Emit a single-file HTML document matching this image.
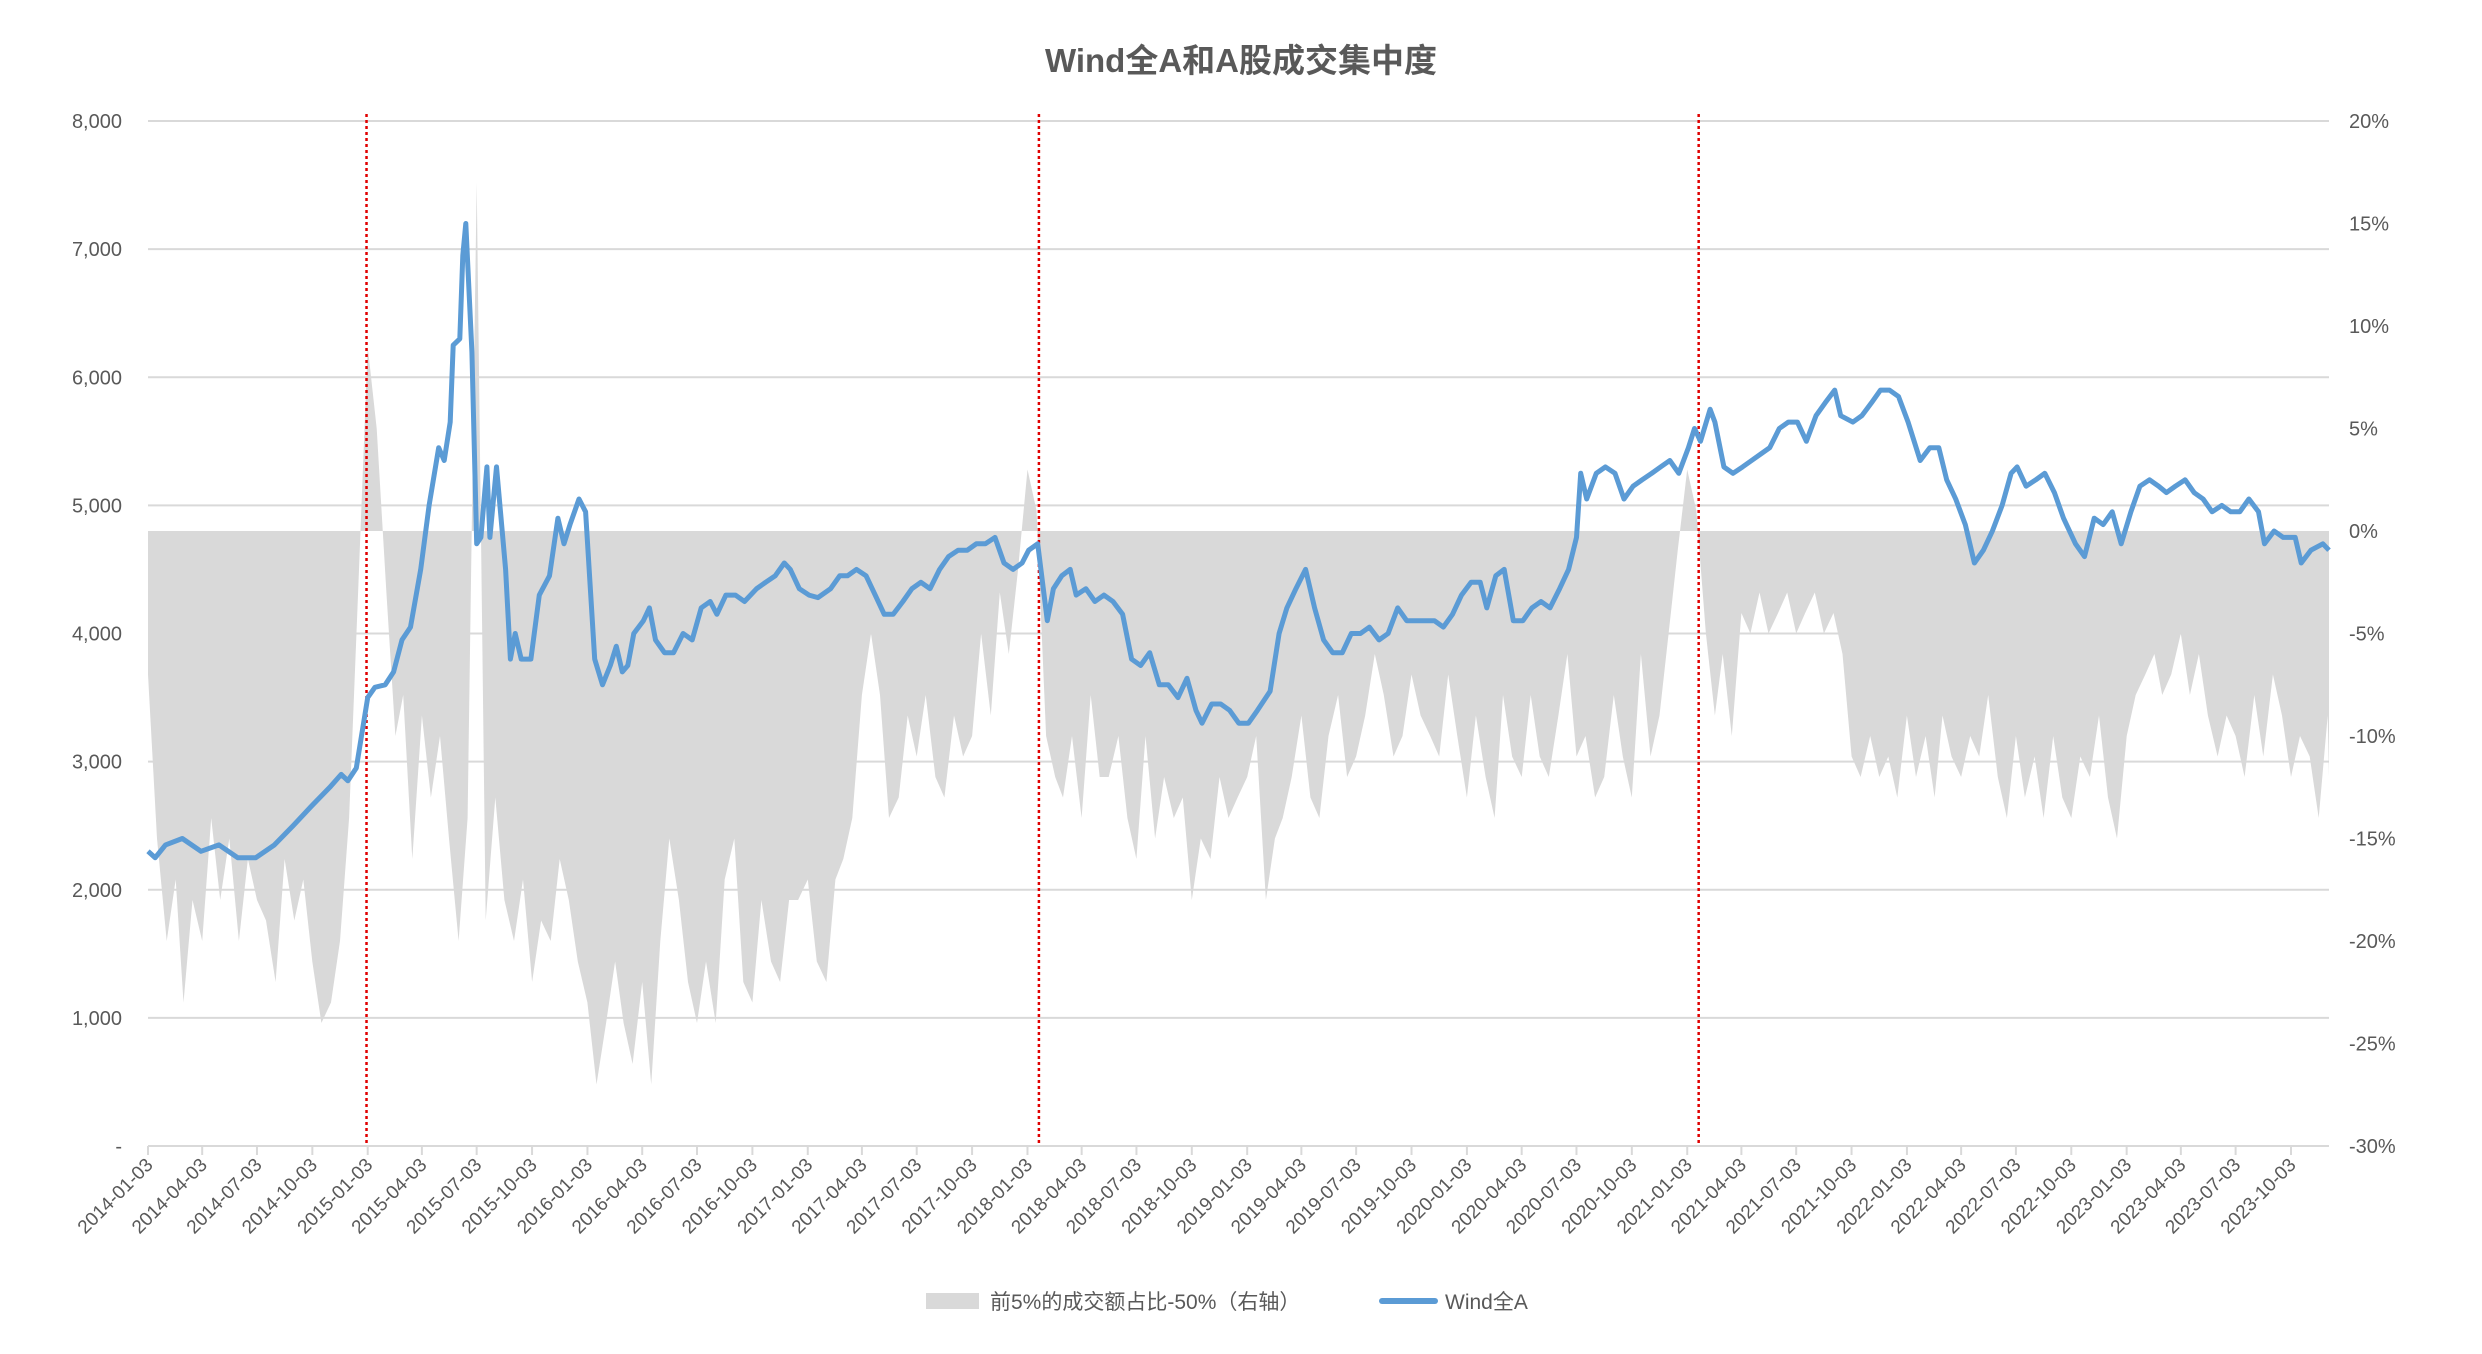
<!DOCTYPE html>
<html><head><meta charset="utf-8"><style>
html,body{margin:0;padding:0;background:#fff;}
svg{display:block;font-family:"Liberation Sans","Noto Sans CJK SC",sans-serif;}
</style></head><body>
<svg id="chart" width="2482" height="1354" viewBox="0 0 2482 1354" xmlns="http://www.w3.org/2000/svg">
<text x="1241" y="72" text-anchor="middle" font-size="33" font-weight="bold" fill="#595959">Wind全A和A股成交集中度</text>
<g id="grid"></g><g id="area"></g><g id="redlines"></g><g id="line"></g><g id="axes"></g>
<g>
<rect x="926" y="1293" width="53" height="16" fill="#d9d9d9"/>
<text x="990" y="1309" font-size="21" fill="#595959">前5%的成交额占比-50%（右轴）</text>
<line x1="1382" y1="1301" x2="1435" y2="1301" stroke="#5b9bd5" stroke-width="6" stroke-linecap="round"/>
<text x="1445" y="1309" font-size="21" fill="#595959">Wind全A</text>
</g>
</svg>
<script>
const leftTicks=[0,1000,2000,3000,4000,5000,6000,7000,8000];
const leftTickLabels=['-','1,000','2,000','3,000','4,000','5,000','6,000','7,000','8,000'];
const rightTicks=[-30,-25,-20,-15,-10,-5,0,5,10,15,20];
const rightTickLabels=['-30%','-25%','-20%','-15%','-10%','-5%','0%','5%','10%','15%','20%'];
const xTickLabels=[];
for(let y=2014;y<=2023;y++)for(const m of ['01','04','07','10'])xTickLabels.push(y+'-'+m+'-03');
const redLineDates=['2015-01-01','2018-01-22','2021-01-22'];
const grayStartMonth='2014-01';
const grayValues=[-7,-15,-20,-17,-23,-18,-20,-14,-18,-15,-20,-16,-18,-19,-22,-16,-19,-17,-21,-24,-23,-20,-14,-3,
9,5,-3,-10,-8,-16,-9,-13,-10,-15,-20,-14,17,-19,-13,-18,-20,-17,-22,-19,-20,-16,-18,-21,
-23,-27,-24,-21,-24,-26,-22,-27,-20,-15,-18,-22,-24,-21,-24,-17,-15,-22,-23,-18,-21,-22,-18,-18,
-17,-21,-22,-17,-16,-14,-8,-5,-8,-14,-13,-9,-11,-8,-12,-13,-9,-11,-10,-5,-9,-3,-6,-2,
3,1,-10,-12,-13,-10,-14,-8,-12,-12,-10,-14,-16,-10,-15,-12,-14,-13,-18,-15,-16,-12,-14,-13,
-12,-10,-18,-15,-14,-12,-9,-13,-14,-10,-8,-12,-11,-9,-6,-8,-11,-10,-7,-9,-10,-11,-7,-10,
-13,-9,-12,-14,-8,-11,-12,-8,-11,-12,-9,-6,-11,-10,-13,-12,-8,-11,-13,-6,-11,-9,-5,-1,
3,1,-5,-9,-6,-10,-4,-5,-3,-5,-4,-3,-5,-4,-3,-5,-4,-6,-11,-12,-10,-12,-11,-13,
-9,-12,-10,-13,-9,-11,-12,-10,-11,-8,-12,-14,-10,-13,-11,-14,-10,-13,-14,-11,-12,-9,-13,-15,
-10,-8,-7,-6,-8,-7,-5,-8,-6,-9,-11,-9,-10,-12,-8,-11,-7,-9,-12,-10,-11,-14,-9,-12];
const windDates=['2014-01-03','2014-01-15','2014-02-01','2014-03-01','2014-04-01','2014-05-01','2014-06-01','2014-07-01','2014-08-01','2014-09-01','2014-10-01','2014-11-01','2014-11-20','2014-12-01','2014-12-15','2015-01-03','2015-01-15','2015-02-01','2015-02-15','2015-03-01','2015-03-15','2015-04-01','2015-04-15','2015-05-01','2015-05-10','2015-05-20','2015-05-25','2015-06-05','2015-06-10','2015-06-15','2015-06-25','2015-07-03','2015-07-10','2015-07-20','2015-07-25','2015-08-05','2015-08-20','2015-08-28','2015-09-05','2015-09-15','2015-10-01','2015-10-15','2015-11-01','2015-11-15','2015-11-25','2015-12-05','2015-12-20','2015-12-31','2016-01-15','2016-01-28','2016-02-10','2016-02-20','2016-03-01','2016-03-10','2016-03-20','2016-04-05','2016-04-15','2016-04-25','2016-05-10','2016-05-25','2016-06-10','2016-06-25','2016-07-10','2016-07-25','2016-08-05','2016-08-20','2016-09-05','2016-09-20','2016-10-10','2016-10-25','2016-11-10','2016-11-25','2016-12-05','2016-12-20','2017-01-05','2017-01-20','2017-02-10','2017-02-25','2017-03-10','2017-03-25','2017-04-10','2017-04-25','2017-05-10','2017-05-25','2017-06-10','2017-06-25','2017-07-10','2017-07-25','2017-08-10','2017-08-25','2017-09-10','2017-09-25','2017-10-10','2017-10-25','2017-11-10','2017-11-25','2017-12-10','2017-12-25','2018-01-05','2018-01-20','2018-02-05','2018-02-15','2018-03-01','2018-03-15','2018-03-25','2018-04-10','2018-04-25','2018-05-10','2018-05-25','2018-06-10','2018-06-25','2018-07-10','2018-07-25','2018-08-10','2018-08-25','2018-09-10','2018-09-25','2018-10-10','2018-10-20','2018-11-05','2018-11-20','2018-12-05','2018-12-20','2019-01-05','2019-01-20','2019-02-10','2019-02-25','2019-03-10','2019-03-25','2019-04-10','2019-04-25','2019-05-10','2019-05-25','2019-06-10','2019-06-25','2019-07-10','2019-07-25','2019-08-10','2019-08-25','2019-09-10','2019-09-25','2019-10-10','2019-10-25','2019-11-10','2019-11-25','2019-12-10','2019-12-25','2020-01-10','2020-01-25','2020-02-05','2020-02-20','2020-03-05','2020-03-20','2020-04-05','2020-04-20','2020-05-05','2020-05-20','2020-06-05','2020-06-20','2020-07-03','2020-07-10','2020-07-20','2020-08-05','2020-08-20','2020-09-05','2020-09-20','2020-10-05','2020-10-20','2020-11-05','2020-11-20','2020-12-05','2020-12-20','2021-01-05','2021-01-15','2021-01-25','2021-02-10','2021-02-18','2021-03-05','2021-03-20','2021-04-05','2021-04-20','2021-05-05','2021-05-20','2021-06-05','2021-06-20','2021-07-05','2021-07-20','2021-08-05','2021-08-20','2021-09-05','2021-09-15','2021-10-05','2021-10-20','2021-11-05','2021-11-20','2021-12-05','2021-12-20','2022-01-05','2022-01-25','2022-02-10','2022-02-25','2022-03-10','2022-03-25','2022-04-10','2022-04-25','2022-05-10','2022-05-25','2022-06-10','2022-06-25','2022-07-05','2022-07-20','2022-08-05','2022-08-20','2022-09-05','2022-09-20','2022-10-10','2022-10-25','2022-11-10','2022-11-25','2022-12-10','2022-12-25','2023-01-10','2023-01-25','2023-02-10','2023-02-25','2023-03-10','2023-03-25','2023-04-10','2023-04-25','2023-05-10','2023-05-25','2023-06-10','2023-06-25','2023-07-10','2023-07-25','2023-08-10','2023-08-20','2023-09-05','2023-09-20','2023-10-10','2023-10-20','2023-11-05','2023-11-25','2023-12-29'];
const windValues=[2300,2250,2350,2400,2300,2350,2250,2250,2350,2500,2650,2800,2900,2850,2950,3500,3580,3600,3700,3950,4050,4500,5000,5450,5350,5650,6250,6300,6950,7200,6200,4700,4750,5300,4750,5300,4500,3800,4000,3800,3800,4300,4450,4900,4700,4850,5050,4950,3800,3600,3750,3900,3700,3750,4000,4100,4200,3950,3850,3850,4000,3950,4200,4250,4150,4300,4300,4250,4350,4400,4450,4550,4500,4350,4300,4280,4350,4450,4450,4500,4450,4300,4150,4150,4250,4350,4400,4350,4500,4600,4650,4650,4700,4700,4750,4550,4500,4550,4650,4700,4100,4350,4450,4500,4300,4350,4250,4300,4250,4150,3800,3750,3850,3600,3600,3500,3650,3400,3300,3450,3450,3400,3300,3300,3400,3550,4000,4200,4350,4500,4200,3950,3850,3850,4000,4000,4050,3950,4000,4200,4100,4100,4100,4100,4050,4150,4300,4400,4400,4200,4450,4500,4100,4100,4200,4250,4200,4350,4500,4750,5250,5050,5250,5300,5250,5050,5150,5200,5250,5300,5350,5250,5450,5600,5500,5750,5650,5300,5250,5300,5350,5400,5450,5600,5650,5650,5500,5700,5800,5900,5700,5650,5700,5800,5900,5900,5850,5650,5350,5450,5450,5200,5050,4850,4550,4650,4800,5000,5250,5300,5150,5200,5250,5100,4900,4700,4600,4900,4850,4950,4700,4950,5150,5200,5150,5100,5150,5200,5100,5050,4950,5000,4950,4950,5050,4950,4700,4800,4750,4750,4550,4650,4700,4650];

const NS='http://www.w3.org/2000/svg';
const X0=148,X1=2329,YT=121,YB=1146;
const t0=Date.parse('2014-01-03'), tq=(Date.parse('2023-10-03')-t0)/39, pxq=(2291-148)/39;
function xScale(d){return X0+(Date.parse(d)-t0)/tq*pxq;}
function yLeft(v){return YB-(v/8000)*(YB-YT);}
function yRight(p){return YB-((p+30)/50)*(YB-YT);}
function mk(tag,attrs,parent,txt){const e=document.createElementNS(NS,tag);for(const k in attrs)e.setAttribute(k,attrs[k]);if(txt!==undefined)e.textContent=txt;parent.appendChild(e);return e;}
const grid=document.getElementById('grid'),axes=document.getElementById('axes');
leftTicks.forEach((v,i)=>{
  const y=yLeft(v);
  const gl=mk('line',{x1:X0,x2:X1,y1:y,y2:y,stroke:'#d9d9d9','stroke-width':2},grid);
  
  
  const t=mk('text',{x:122,y:y+7,'text-anchor':'end','font-size':20,fill:'#595959'},axes,leftTickLabels[i]);
  
  
});
rightTicks.forEach((p,i)=>{
  const t=mk('text',{x:2349,y:yRight(p)+7,'font-size':20,fill:'#595959'},axes,rightTickLabels[i]);
  
  
});
xTickLabels.forEach(d=>{
  const x=xScale(d);
  const tk=mk('line',{x1:x,x2:x,y1:YB,y2:YB+9,stroke:'#d9d9d9','stroke-width':2},axes);
  
  
  const t=mk('text',{x:x+6,y:YB+20,'text-anchor':'end','font-size':19,fill:'#595959',transform:`rotate(-45 ${x+6} ${YB+20})`},axes,d);
  
  
});
// gray area
const [gy,gm]=grayStartMonth.split('-').map(Number);
let pts=[];
grayValues.forEach((v,i)=>{
  const mi=gm-1+Math.floor(i/2), yr=gy+Math.floor(mi/12), mo=mi%12+1;
  const d=yr+'-'+String(mo).padStart(2,'0')+'-'+(i%2?'18':'03');
  pts.push([Math.min(xScale(d),X1),yRight(v)]);
});
const y0=yRight(0);
let dstr=`M${pts[0][0]},${y0} `+pts.map(p=>`L${p[0].toFixed(1)},${p[1].toFixed(1)}`).join(' ')+` L${X1},${pts[pts.length-1][1].toFixed(1)} L${X1},${y0} Z`;
const area=mk('path',{d:dstr,fill:'#d9d9d9'},document.getElementById('area'));


// red lines
redLineDates.forEach(d=>{
  const x=xScale(d);
  const l=mk('line',{x1:x,x2:x,y1:114,y2:YB,stroke:'#e00000','stroke-width':2.5,'stroke-dasharray':'3 3'},document.getElementById('redlines'));
  
  
});
// wind line
const lp=windDates.map((d,i)=>`${Math.min(xScale(d),X1).toFixed(1)},${yLeft(windValues[i]).toFixed(1)}`).join(' ');
const pl=mk('polyline',{points:lp,fill:'none',stroke:'#5b9bd5','stroke-width':5,'stroke-linejoin':'round'},document.getElementById('line'));


</script>
</body></html>
